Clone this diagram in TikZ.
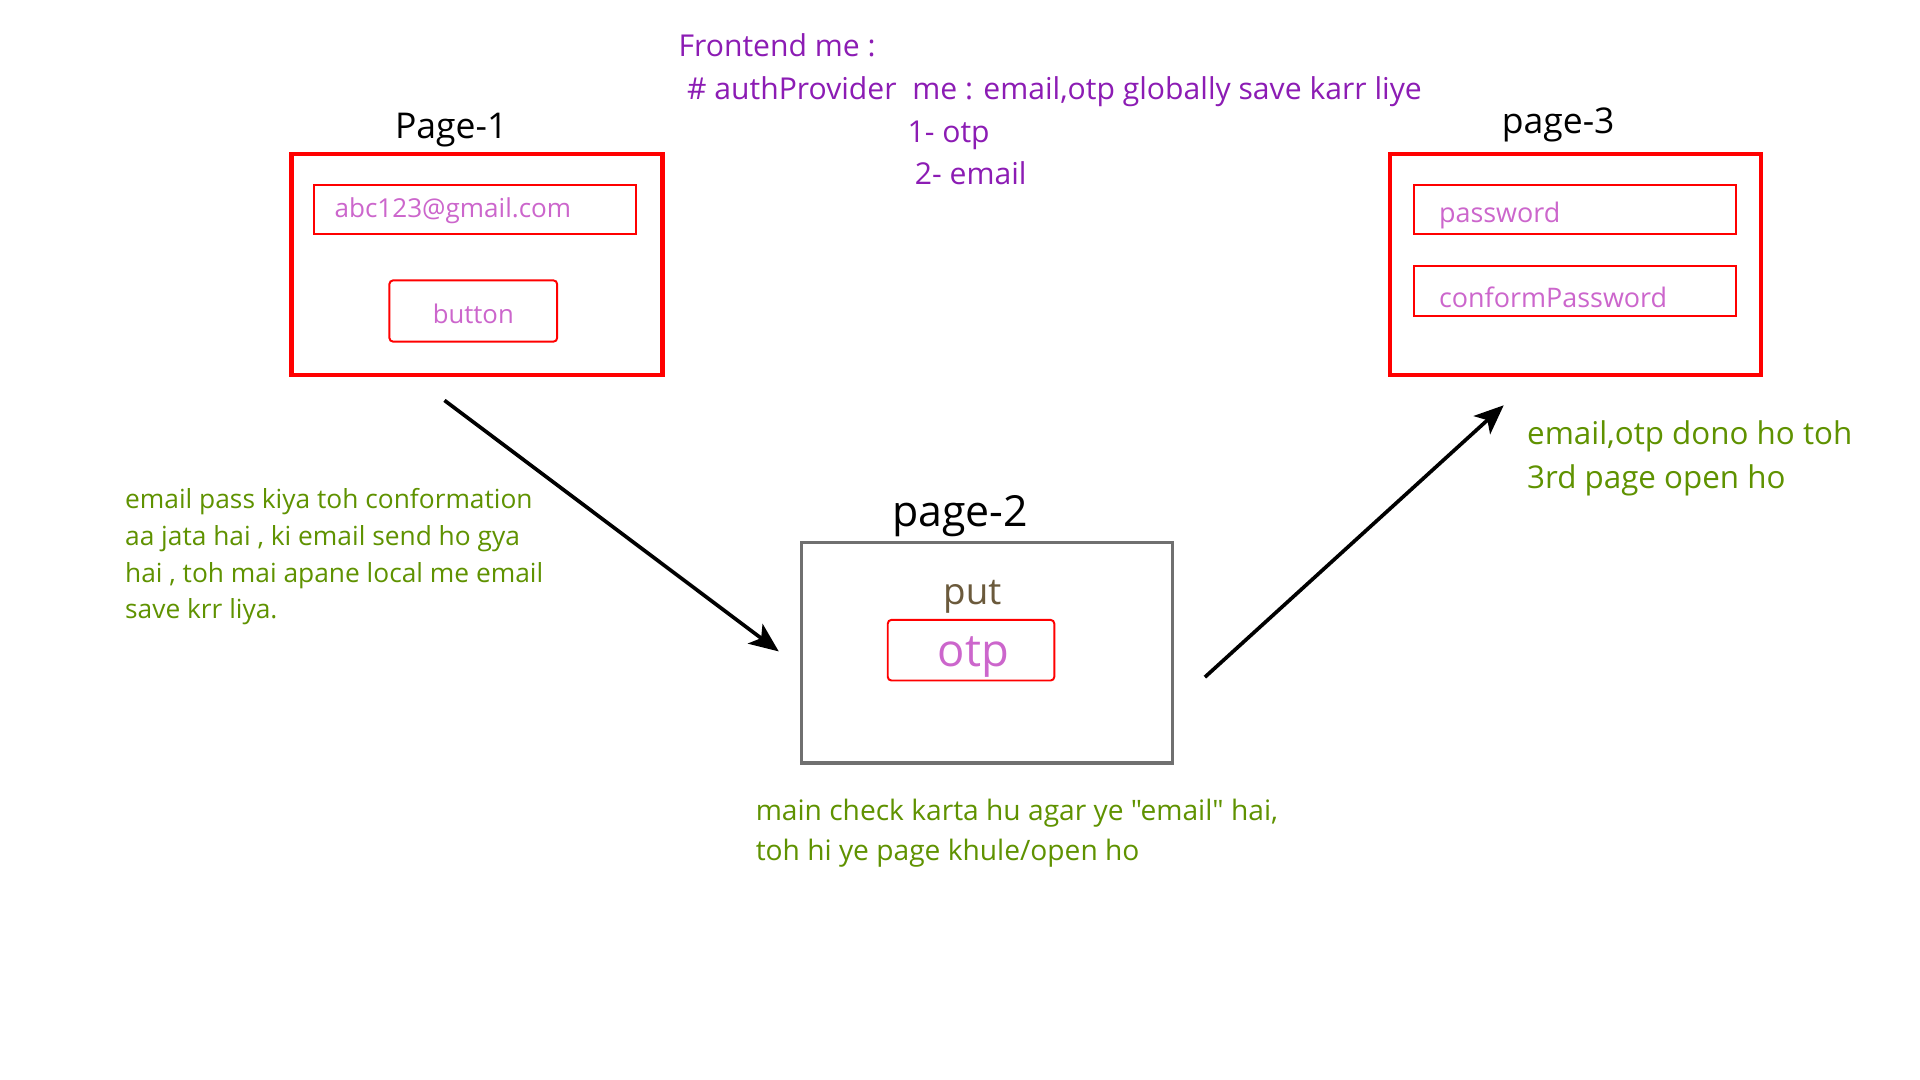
\documentclass[tikz,border=0pt]{standalone}
\usepackage{fontspec}
\setmainfont{Open Sans}[Ligatures=TeXOff]
\usetikzlibrary{arrows.meta,positioning}
\definecolor{notepurple}{HTML}{8C1CB4}
\definecolor{notegreen}{HTML}{5F9200}
\definecolor{fieldpink}{HTML}{CC66CC}
\definecolor{putbrown}{HTML}{6B5A3C}
\definecolor{framegray}{HTML}{707070}
\newcommand{\fs}[2]{\fontsize{#1}{#2}\selectfont}
\begin{document}
\begin{tikzpicture}[x=1pt,y=-1pt,
  pagebox/.style={draw=red,line width=3.5pt,minimum width=303pt,minimum height=180pt,inner sep=0pt},
  fieldbox/.style={draw=red,line width=1.6pt,minimum width=263pt,minimum height=40pt,inner sep=0pt},
  btnbox/.style={draw=red,line width=1.6pt,rounded corners=3pt,inner sep=0pt},
  title/.style={anchor=base,inner sep=0pt,font=\fs{29}{35}},
  hint/.style={anchor=base west,inner sep=0pt,text=fieldpink,font=\fs{22}{26}},
  note/.style={anchor=base west,inner sep=0pt,align=left,text=notegreen},
  plan/.style={anchor=base west,inner sep=0pt,text=notepurple,font=\fs{24.6}{30}},
  flow/.style={-{Stealth[length=24pt,width=20pt,inset=6pt]},line width=3pt}
]
\fill[white] (0,0) rectangle (1568,882);
\useasboundingbox (0,0) rectangle (1568,882);
% Page-1
\node[pagebox] (page1) at (389.5,216) {};
\node[fieldbox] (email) at (388,171) {};
\node[btnbox,minimum width=137pt,minimum height=50pt] (btn) at (386.5,254) {};
\node[title] (p1lbl) at (368.5,113.5) {Page-1};
\node[hint,font=\fs{21.3}{26}] (emailtxt) at (273,178) {abc123@gmail.com};
\node[hint,anchor=base,font=\fs{21}{26}] (btntxt) at (386.5,264.5) {button};
% page-2
\node[pagebox,draw=framegray,line width=3pt] (page2) at (806,533) {};
\node[title,font=\fs{35}{40}] (p2lbl) at (784,430) {page-2};
\node[anchor=base,inner sep=0pt,text=putbrown,font=\fs{30}{36}] (put) at (794,494) {put};
\node[btnbox,minimum width=136pt,minimum height=49.5pt] (otpbox) at (793,531) {};
\node[anchor=base,inner sep=0pt,text=fieldpink,font=\fs{37}{44}] (otptxt) at (795,544) {otp};
% page-3
\node[pagebox] (page3) at (1286.5,216) {};
\node[fieldbox] (pwd) at (1286.5,171) {};
\node[fieldbox,minimum height=41pt] (cpwd) at (1286.5,237.5) {};
\node[title] (p3lbl) at (1272.5,109) {page-3};
\node[hint] (pwdtxt) at (1175,182) {password};
\node[hint] (cpwdtxt) at (1175,251) {conformPassword};
% notes
\node[plan] (fe) at (554,46) {Frontend me :};
\node[plan] (auth) at (561,81) {\# authProvider\ \ me : email,otp globally save karr liye};
\node[plan] (opt1) at (741,116) {1- otp};
\node[plan] (opt2) at (747,151) {2- email};
\node[note,font=\fs{21.5}{30}] (leftnote) at (102,505.5) {email pass kiya toh conformation\\aa jata hai , ki email send ho gya\\hai , toh mai apane local me email\\save krr liya.};
\node[note,font=\fs{25.6}{36}] (rightnote) at (1247,399) {email,otp dono ho toh\\3rd page open ho};
\node[note,font=\fs{23}{33}] (bottomnote) at (617,703) {main check karta hu agar ye "email" hai,\\toh hi ye page khule/open ho};
% arrows
\coordinate (a1s) at (363,327);
\coordinate (a1e) at (636,532);
\coordinate (a2s) at (984,553);
\coordinate (a2e) at (1228,331);
\draw[flow] (a1s) -- (a1e);
\draw[flow] (a2s) -- (a2e);
\end{tikzpicture}
\end{document}
